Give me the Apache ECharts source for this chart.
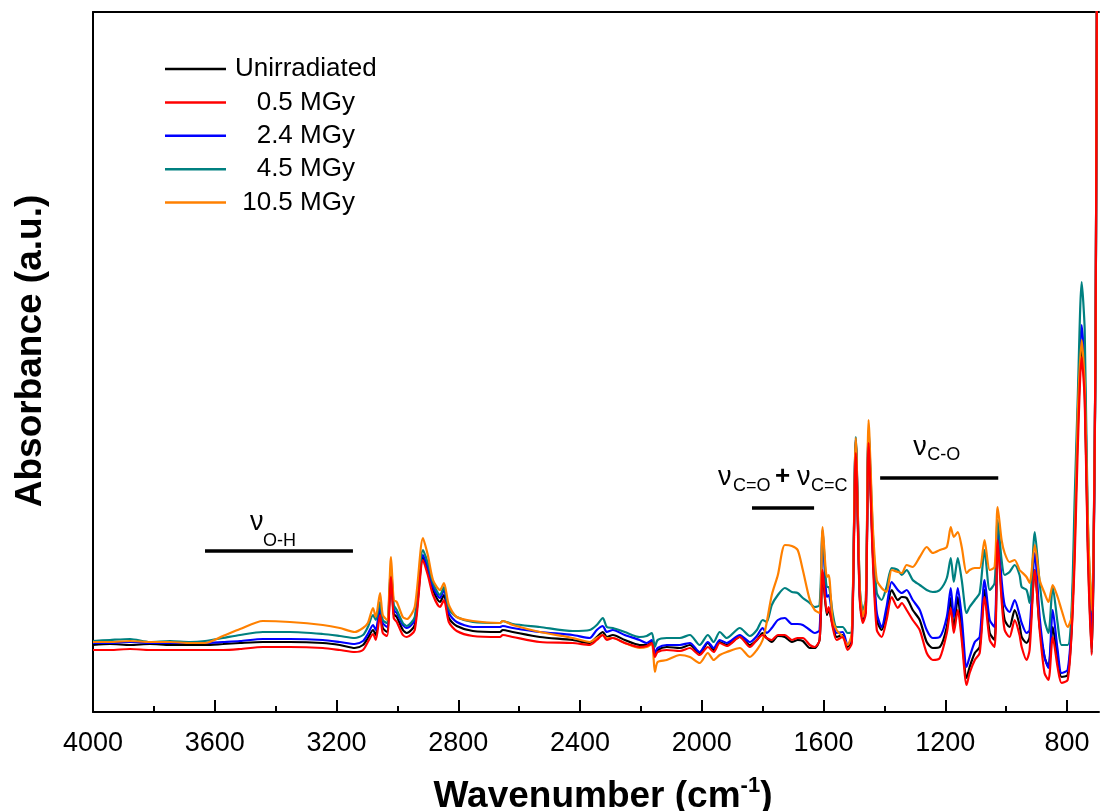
<!DOCTYPE html>
<html><head><meta charset="utf-8">
<script src="https://cdn.jsdelivr.net/npm/echarts@6/dist/echarts.min.js"></script>
<style>html,body{margin:0;padding:0;background:#fff}#c{width:1101px;height:811px}</style>
</head><body><div id="c"></div>
<script>
const wavenumbers = [
4000,3944,3878,3813,3747,3681,3632,3573,3517,3442,3353,3245,3189,3140,
3113,3097,3080,3071,3057,3048,3034,3021,3012,3002,
2982,2969,2943,2916,2900,2883,2860,2847,2831,2805,
2752,2663,2654,2621,2532,2424,2368,2345,2325,2312,
2292,2253,2204,
2181,2164,2154,2145,2115,2072,2039,2007,1980,1961,
1941,1918,1875,1842,1819,1800,1787,1770,1750,1727,
1704,1685,1668,1645,1629,1613,1603,1589,1583,1570,
1557,1537,1521,1507,
1494,1481,1471,1461,1452,1438,1425,1409,1393,1376,
1356,1343,1327,1307,1284,1261,1241,1218,1195,1182,
1172,1159,1146,1130,1120,1103,1087,1071,1054,1038,
1028,1015,1005,989,972,956,949,933,923,906,
890,874,861,847,831,818,798,785,775,765,
752,742,732,719,713,706,700];

const unirradiated = [
0.67,0.68,0.67,0.68,0.67,0.67,0.67,0.68,0.69,0.70,0.70,0.69,0.67,0.64,
0.67,0.74,0.82,0.77,1.01,0.84,0.80,1.37,0.98,0.95,
0.82,0.79,0.87,1.55,1.40,1.22,1.10,1.17,0.94,0.86,
0.81,0.80,0.82,0.80,0.75,0.72,0.69,0.75,0.80,0.75,
0.77,0.72,0.67,
0.67,0.70,0.57,0.62,0.65,0.64,0.67,0.59,0.69,0.62,
0.70,0.67,0.75,0.67,0.72,0.79,0.74,0.70,0.76,0.75,
0.70,0.72,0.71,0.64,0.64,0.72,1.40,0.97,1.02,0.87,
0.75,0.77,0.65,0.72,
2.70,1.15,0.92,1.02,2.75,1.59,0.92,0.82,0.99,1.22,
1.12,1.15,1.14,1.02,0.92,0.70,0.64,0.65,0.85,1.14,
0.82,1.15,0.79,0.34,0.45,0.59,0.65,1.22,0.79,0.72,
1.79,1.19,0.92,0.85,1.02,0.87,0.75,0.69,0.75,1.42,
0.85,0.55,0.45,0.85,0.52,0.35,0.37,0.82,1.72,2.82,
3.65,3.22,1.72,0.59,1.42,3.82,9.12];

const dose05 = [
0.62,0.62,0.63,0.62,0.62,0.62,0.62,0.62,0.63,0.65,0.65,0.64,0.62,0.60,
0.62,0.70,0.78,0.72,0.97,0.79,0.76,1.35,0.94,0.90,
0.77,0.75,0.82,1.52,1.37,1.17,1.05,1.12,0.90,0.81,
0.76,0.75,0.77,0.75,0.70,0.69,0.67,0.72,0.77,0.72,
0.74,0.69,0.65,
0.66,0.69,0.55,0.60,0.62,0.61,0.64,0.57,0.65,0.60,
0.69,0.66,0.75,0.65,0.72,0.77,0.74,0.72,0.77,0.77,
0.72,0.74,0.74,0.67,0.65,0.72,1.42,0.99,1.05,0.85,
0.72,0.75,0.62,0.69,
2.59,1.12,0.89,0.99,2.69,1.52,0.82,0.75,0.92,1.15,
1.04,1.09,1.02,0.92,0.82,0.59,0.52,0.54,0.79,1.04,
0.79,1.02,0.72,0.27,0.39,0.52,0.59,1.15,0.72,0.65,
1.72,1.12,0.82,0.75,0.92,0.77,0.65,0.52,0.62,1.42,
0.82,0.39,0.32,0.75,0.45,0.29,0.32,0.79,1.52,2.62,
3.55,3.12,1.62,0.57,1.52,3.82,9.12];

const dose24 = [
0.69,0.69,0.70,0.69,0.69,0.69,0.69,0.70,0.71,0.73,0.73,0.72,0.70,0.68,
0.71,0.78,0.87,0.82,1.05,0.89,0.85,1.42,1.02,0.99,
0.87,0.84,0.92,1.57,1.44,1.25,1.14,1.22,0.99,0.90,
0.85,0.85,0.86,0.84,0.80,0.77,0.74,0.82,0.86,0.80,
0.82,0.77,0.72,
0.69,0.72,0.59,0.64,0.67,0.67,0.69,0.60,0.70,0.64,
0.72,0.69,0.77,0.70,0.76,0.84,0.79,0.84,0.92,0.94,
0.88,0.88,0.87,0.82,0.79,0.82,1.79,1.15,1.17,0.94,
0.79,0.80,0.67,0.75,
2.72,1.19,0.95,1.05,2.79,1.62,0.99,0.85,1.05,1.30,
1.22,1.19,1.22,1.12,1.02,0.82,0.74,0.75,0.95,1.24,
0.95,1.24,0.95,0.45,0.55,0.70,0.75,1.32,0.92,0.85,
1.82,1.32,1.07,1.00,1.12,0.97,0.89,0.79,0.82,1.59,
0.95,0.55,0.44,1.02,0.62,0.39,0.42,0.89,1.82,2.92,
3.87,3.42,1.82,0.79,1.52,3.82,9.12];

const dose45 = [
0.71,0.72,0.73,0.70,0.71,0.70,0.71,0.74,0.77,0.80,0.80,0.78,0.76,0.74,
0.77,0.85,0.97,0.92,1.10,0.92,0.89,1.45,1.07,1.02,
0.89,0.86,0.95,1.62,1.49,1.29,1.17,1.25,1.03,0.95,
0.90,0.89,0.91,0.88,0.85,0.81,0.82,0.87,0.94,0.85,
0.84,0.80,0.75,
0.76,0.79,0.65,0.72,0.74,0.74,0.77,0.67,0.77,0.70,
0.80,0.74,0.84,0.76,0.82,0.92,0.90,1.07,1.17,1.24,
1.20,1.19,1.14,1.09,1.05,1.07,1.82,1.25,1.25,0.99,
0.85,0.85,0.79,0.80,
2.75,1.25,1.02,1.12,2.82,1.79,1.19,1.12,1.25,1.44,
1.42,1.37,1.42,1.32,1.27,1.22,1.20,1.22,1.34,1.54,
1.30,1.54,1.32,0.99,1.05,1.12,1.19,1.62,1.22,1.29,
1.92,1.52,1.37,1.40,1.47,1.37,1.25,1.22,1.09,1.80,
1.29,0.92,0.79,1.25,0.89,0.67,0.67,1.02,2.12,3.12,
4.30,3.82,1.95,1.00,1.62,3.82,9.12];

const dose105 = [
0.70,0.70,0.71,0.70,0.70,0.69,0.69,0.76,0.83,0.91,0.90,0.87,0.84,0.80,
0.84,0.89,1.04,0.95,1.19,0.97,0.92,1.55,1.12,1.10,
0.95,0.93,1.05,1.74,1.57,1.32,1.22,1.29,1.07,0.95,
0.91,0.89,0.91,0.87,0.80,0.74,0.70,0.74,0.77,0.74,
0.74,0.69,0.64,
0.65,0.68,0.40,0.50,0.52,0.57,0.55,0.49,0.59,0.52,
0.57,0.60,0.64,0.55,0.62,0.72,0.89,1.17,1.37,1.67,
1.66,1.62,1.42,1.12,1.02,0.99,1.85,1.35,1.37,0.92,
0.82,0.75,0.67,0.79,
2.74,1.25,0.95,1.12,2.92,1.85,1.32,1.24,1.20,1.42,
1.40,1.39,1.47,1.45,1.55,1.65,1.59,1.62,1.65,1.85,
1.75,1.80,1.65,1.39,1.42,1.44,1.44,1.72,1.42,1.45,
2.05,1.72,1.59,1.50,1.52,1.42,1.40,1.35,1.29,1.67,
1.32,1.19,1.10,1.27,1.15,1.02,0.85,0.95,1.62,2.95,
3.72,3.29,1.95,1.02,1.62,3.82,9.12];

const seriesNames = ['Unirradiated', '   0.5 MGy', '   2.4 MGy', '   4.5 MGy', ' 10.5 MGy'];
const seriesColors = ['#000000', '#ff0000', '#0000ff', '#008080', '#ff8000'];
const seriesValues = [unirradiated, dose05, dose24, dose45, dose105];
const drawOrder = [0, 2, 3, 4, 1];

const majorTicks = [4000, 3600, 3200, 2800, 2400, 2000, 1600, 1200, 800];
const minorTicks = [3800, 3400, 3000, 2600, 2200, 1800, 1400, 1000];

// annotation bars: [from, to] in cm-1 at an absorbance level
const bandOH = {from: 3632, to: 3146, level: 1.61};
const bandCO = {from: 1835, to: 1631, level: 2.04};
const bandCOs = {from: 1414, to: 1026, level: 2.34};

const FONT = '"Liberation Sans", Arial, Helvetica, sans-serif';
const chart = echarts.init(document.getElementById('c'), null, {renderer: 'canvas'});

const xBase = {type: 'value', min: 695, max: 4000, inverse: true, splitLine: {show: false}};
const series = drawOrder.map(i => ({
  name: seriesNames[i],
  type: 'line',
  xAxisIndex: 0, yAxisIndex: 0,
  data: wavenumbers.map((w, k) => [w, seriesValues[i][k]]),
  symbol: 'none',
  smooth: 0.25,
  lineStyle: {color: seriesColors[i], width: 2.2},
  itemStyle: {color: seriesColors[i]},
  emphasis: {disabled: true},
  animation: false,
  clip: true
}));

chart.setOption({
  animation: false,
  backgroundColor: '#fff',
  grid: {left: 93, right: 2, top: 12, bottom: 99, containLabel: false},
  legend: {
    data: seriesNames.map(n => ({name: n, icon: 'rect'})),
    orient: 'vertical',
    left: 160, top: 51,
    itemWidth: 61, itemHeight: 2.5, itemGap: 7.4,
    textStyle: {fontSize: 26, color: '#000', fontFamily: FONT, padding: [0, 0, 0, 4]},
    selectedMode: false
  },
  xAxis: [
    Object.assign({}, xBase, {
      position: 'bottom',
      axisLine: {show: true, onZero: false, lineStyle: {color: '#000', width: 2}},
      axisTick: {show: true, inside: true, length: 12, lineStyle: {color: '#000', width: 2}, customValues: majorTicks},
      axisLabel: {show: true, customValues: majorTicks, fontSize: 27, color: '#000', margin: 18, fontFamily: FONT,
        formatter: v => String(v)}
    }),
    Object.assign({}, xBase, {
      position: 'bottom',
      axisLine: {show: false},
      axisTick: {show: true, inside: true, length: 6, lineStyle: {color: '#000', width: 2}, customValues: minorTicks},
      axisLabel: {show: false}
    }),
    Object.assign({}, xBase, {
      position: 'top',
      axisLine: {show: true, onZero: false, lineStyle: {color: '#000', width: 2}},
      axisTick: {show: false},
      axisLabel: {show: false}
    })
  ],
  yAxis: {
    type: 'value', min: 0, max: 7, position: 'left',
    axisLine: {show: true, onZero: false, lineStyle: {color: '#000', width: 2}},
    axisTick: {show: false}, axisLabel: {show: false}, splitLine: {show: false}
  },
  series: series
});

function px(w, a) { return chart.convertToPixel({xAxisIndex: 0, yAxisIndex: 0}, [w, a]); }
function bar(b) {
  const p1 = px(b.from, b.level), p2 = px(b.to, b.level);
  return {p1, p2, el: {type: 'line', shape: {x1: p1[0], y1: p1[1], x2: p2[0], y2: p2[1]}, style: {stroke: '#000', lineWidth: 3.5}, z: 100}};
}
function txt(x, y, s, size, weight) {
  return {type: 'text', x: x, y: y, z: 100, style: {text: s, fontSize: size, fontWeight: weight || 'normal', fontFamily: FONT, fill: '#000', align: 'left', verticalAlign: 'middle'}};
}
const b1 = bar(bandOH), b2 = bar(bandCO), b3 = bar(bandCOs);
const g = [b1.el, b2.el, b3.el];
// nu O-H
g.push(txt(b1.p1[0] + 45, b1.p1[1] - 28, 'ν', 27));
g.push(txt(b1.p1[0] + 58, b1.p1[1] - 10, 'O-H', 18));
// nu C=O + nu C=C
g.push(txt(b2.p1[0] - 34, b2.p1[1] - 30, 'ν', 27));
g.push(txt(b2.p1[0] - 19, b2.p1[1] - 22, 'C=O', 18));
g.push(txt(b2.p1[0] + 23, b2.p1[1] - 31, '+', 26, 'bold'));
g.push(txt(b2.p1[0] + 45, b2.p1[1] - 30, 'ν', 27));
g.push(txt(b2.p1[0] + 59, b2.p1[1] - 22, 'C=C', 18));
// nu C-O
g.push(txt(b3.p1[0] + 33, b3.p1[1] - 30, 'ν', 27));
g.push(txt(b3.p1[0] + 47, b3.p1[1] - 23, 'C-O', 18));
// axis titles
g.push({type: 'text', x: 31, y: 351, rotation: Math.PI / 2, z: 100,
  style: {text: 'Absorbance (a.u.)', fontSize: 37, fontWeight: 'bold', fontFamily: FONT, fill: '#000', align: 'center', verticalAlign: 'middle'}});
g.push({type: 'text', x: 603, y: 795, z: 100,
  style: {text: '{a|Wavenumber (cm}{s|-1}{a|)}', align: 'center', verticalAlign: 'middle',
    rich: {
      a: {fontSize: 37, fontWeight: 'bold', fontFamily: FONT, fill: '#000', lineHeight: 40, verticalAlign: 'bottom'},
      s: {fontSize: 22, fontWeight: 'bold', fontFamily: FONT, fill: '#000', lineHeight: 22, verticalAlign: 'top'}
    }}});
chart.setOption({graphic: g});
</script>
</body></html>
